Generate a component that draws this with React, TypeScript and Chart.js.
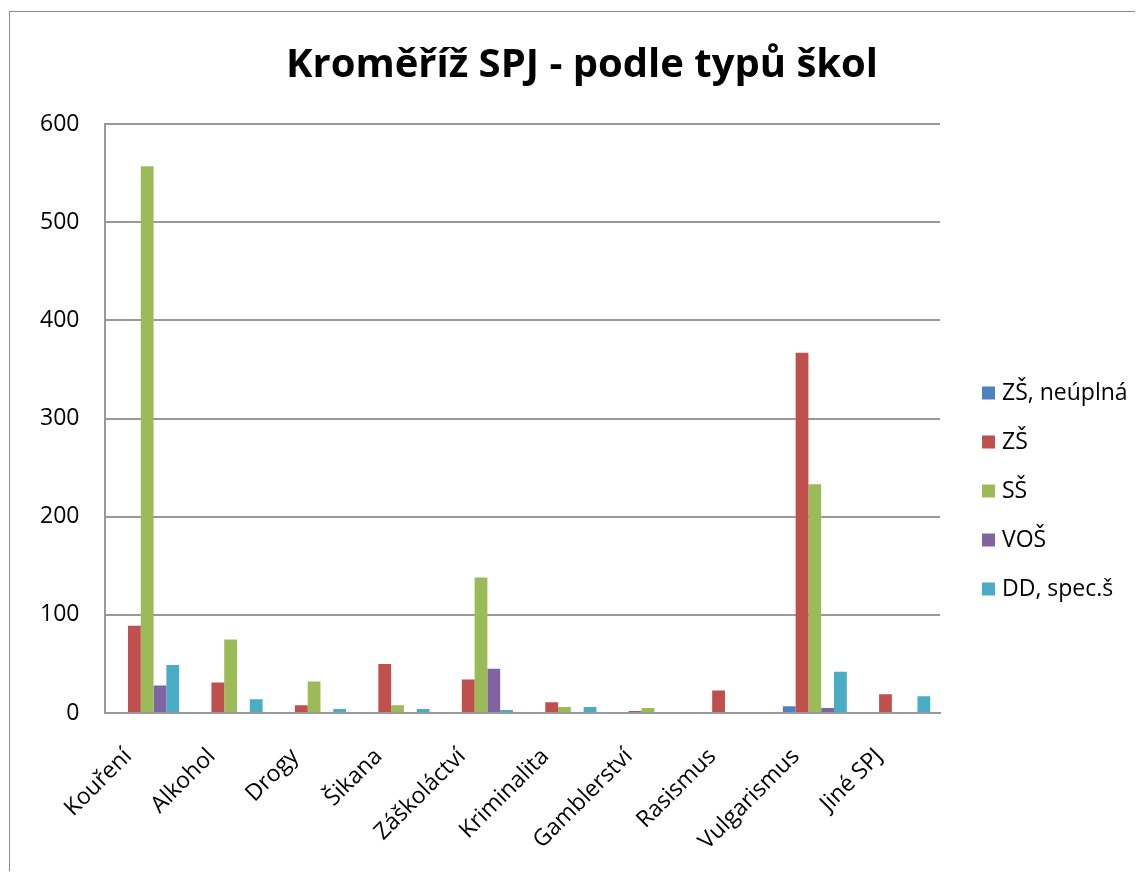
import React, { useEffect, useRef } from "react";
import { Chart, registerables } from "chart.js";

Chart.register(...registerables);

const categories = ["Kouření", "Alkohol", "Drogy", "Šikana", "Záškoláctví", "Kriminalita", "Gamblerství", "Rasismus", "Vulgarismus", "Jiné SPJ"];
const seriesNames = ["ZŠ, neúplná", "ZŠ", "SŠ", "VOŠ", "DD, spec.š"];
const zsNeuplna = [0, 0, 0, 0, 0, 0, 0, 0, 7, 0];
const zs = [89, 31, 8, 50, 34, 11, 2, 23, 367, 19];
const ss = [557, 75, 32, 8, 138, 6, 5, 0, 233, 0];
const vos = [28, 0, 0, 0, 45, 0, 0, 0, 5, 0];
const ddSpec = [49, 14, 4, 4, 3, 6, 0, 0, 42, 17];
const seriesColors = ["#4F81BD", "#C0504D", "#9BBB59", "#8064A2", "#4BACC6"];
const yTicks = [0, 100, 200, 300, 400, 500, 600];

const FONT = "'Open Sans', 'DejaVu Sans', sans-serif";

const legendPlugin = {
  id: "customLegend",
  afterDraw(chart: any) {
    const ctx = chart.ctx;
    const area = chart.chartArea;
    const x0 = area.right + 42;
    const yStart = 385;
    const step = 49;
    ctx.save();
    ctx.font = `23px ${FONT}`;
    ctx.textBaseline = "middle";
    ctx.textAlign = "left";
    chart.data.datasets.forEach((ds: any, i: number) => {
      const y = yStart + i * step;
      ctx.fillStyle = ds.backgroundColor;
      ctx.fillRect(x0, y - 6.5, 13, 13);
      ctx.fillStyle = "#000";
      ctx.fillText(ds.label, x0 + 20, y);
    });
    ctx.restore();
  },
};

export default function App() {
  const ref = useRef<HTMLCanvasElement>(null);
  useEffect(() => {
    if (!ref.current) return;
    const values = [zsNeuplna, zs, ss, vos, ddSpec];
    const chart = new Chart(ref.current, {
      type: "bar",
      data: {
        labels: categories,
        datasets: seriesNames.map((name, i) => ({
          label: name,
          data: values[i],
          backgroundColor: seriesColors[i],
          borderWidth: 0,
        })),
      },
      options: {
        animation: false,
        responsive: false,
        maintainAspectRatio: false,
        datasets: { bar: { categoryPercentage: 0.766, barPercentage: 1 } },
        layout: { padding: { left: 6, right: 0, top: 0, bottom: 0 } },
        plugins: {
          legend: { display: false },
          tooltip: { enabled: false },
          title: {
            display: true,
            text: "Kroměříž SPJ - podle typů škol",
            color: "#000",
            font: { family: FONT, size: 40, weight: "bold" },
            padding: { top: 34, bottom: 34 },
          },
        },
        scales: {
          x: {
            grid: { display: false, drawTicks: false },
            border: { display: true, color: "#999", width: 2 },
            afterFit: (scale: any) => {
              scale.paddingLeft = 0;
              scale.paddingRight = 0;
              scale.height = 166;
            },
            ticks: {
              color: "#000",
              font: { family: FONT, size: 23 },
              minRotation: 45,
              maxRotation: 45,
              padding: 30,
              labelOffset: -19,
              autoSkip: false,
            },
          },
          y: {
            min: 0,
            max: 600,
            afterBuildTicks: (axis: any) => {
              axis.ticks = yTicks.map((v) => ({ value: v }));
            },
            grid: { color: "#999", lineWidth: 2, drawTicks: false },
            border: { display: true, color: "#999", width: 2 },
            ticks: {
              color: "#000",
              font: { family: FONT, size: 23 },
              padding: 26,
            },
          },
          legendSpace: {
            type: "linear",
            position: "right",
            display: true,
            grid: { display: false, drawTicks: false },
            border: { display: false },
            ticks: { display: false },
            afterFit: (scale: any) => {
              scale.width = 210;
            },
          },
        },
      },
      plugins: [legendPlugin],
    });
    return () => chart.destroy();
  }, []);

  return (
    <div style={{ position: "relative", width: 1127, height: 863, overflow: "hidden" }}>
      <div
        style={{
          position: "absolute",
          left: 1,
          top: 3,
          width: 1300,
          height: 1000,
          borderLeft: "1px solid #8a8a8a",
          borderTop: "1px solid #8a8a8a",
        }}
      />
      <canvas ref={ref} width={1142} height={871} style={{ position: "absolute", left: 0, top: 0 }} />
    </div>
  );
}
